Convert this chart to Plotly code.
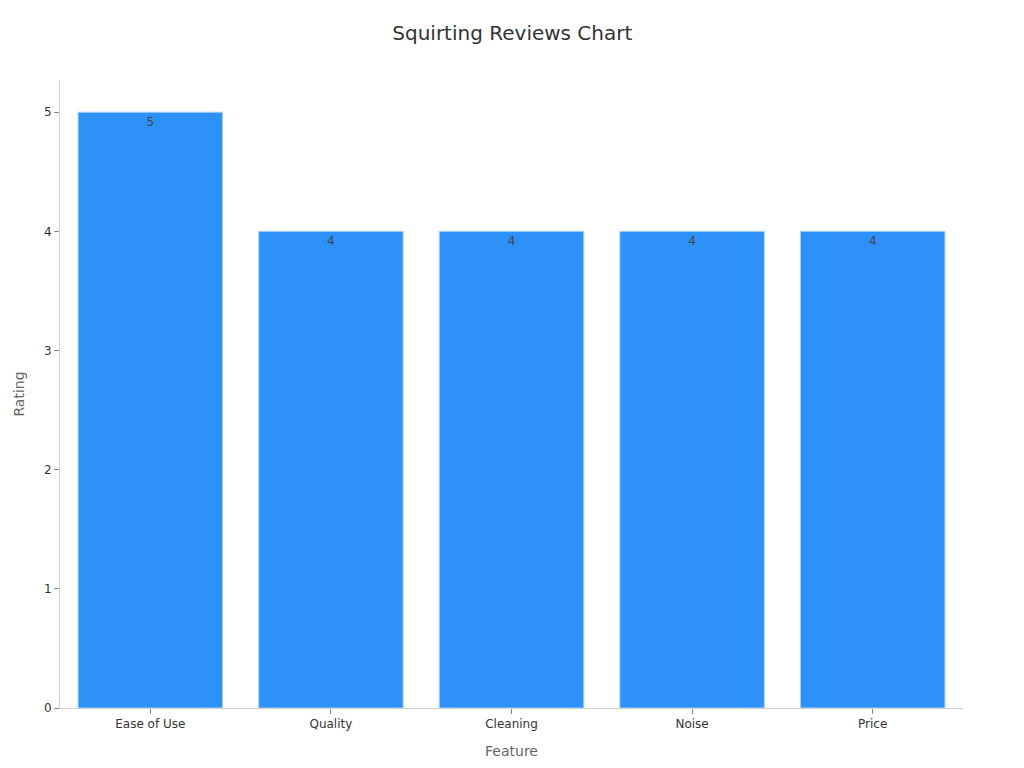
import plotly.graph_objects as go

# data
features = ['Ease of Use', 'Quality', 'Cleaning', 'Noise', 'Price']
ratings = [5, 4, 4, 4, 4]

fig = go.Figure()

fig.add_trace(go.Bar(
    x=features, y=ratings,
    text=ratings, textposition='inside', insidetextanchor='end',
    textfont=dict(size=12, color='#444444'),
    marker=dict(color='#2E91F7', line=dict(color='#A9D0F8', width=1)),
))

fig.update_layout(
    width=1024, height=768,
    title=dict(text='Squirting Reviews Chart', x=0.4925, xanchor='center', y=0.977,
               font=dict(size=20, color='#333333')),
    font=dict(family='DejaVu Sans', size=12, color='#333333'),
    paper_bgcolor='white', plot_bgcolor='white',
    margin=dict(l=52, r=69, t=72, b=68),
    bargap=0.2,
    showlegend=False,
)

fig.update_xaxes(
    title=dict(text='Feature', font=dict(size=14, color='#666666'), standoff=15),
    showline=True, linecolor='#d0d0d0', ticks='outside', tickcolor='#888888', ticklen=5,
    tickfont=dict(size=12, color='#333333'), showgrid=False, automargin=False,
)
fig.update_yaxes(
    title=dict(text='Rating', font=dict(size=14, color='#666666'), standoff=16),
    range=[0, 5.27], dtick=1,
    showline=True, linecolor='#d0d0d0', ticks='outside', tickcolor='#888888', ticklen=5,
    tickfont=dict(size=12, color='#333333'), showgrid=False, zeroline=False, automargin=False,
)

fig.write_html("out.html")
